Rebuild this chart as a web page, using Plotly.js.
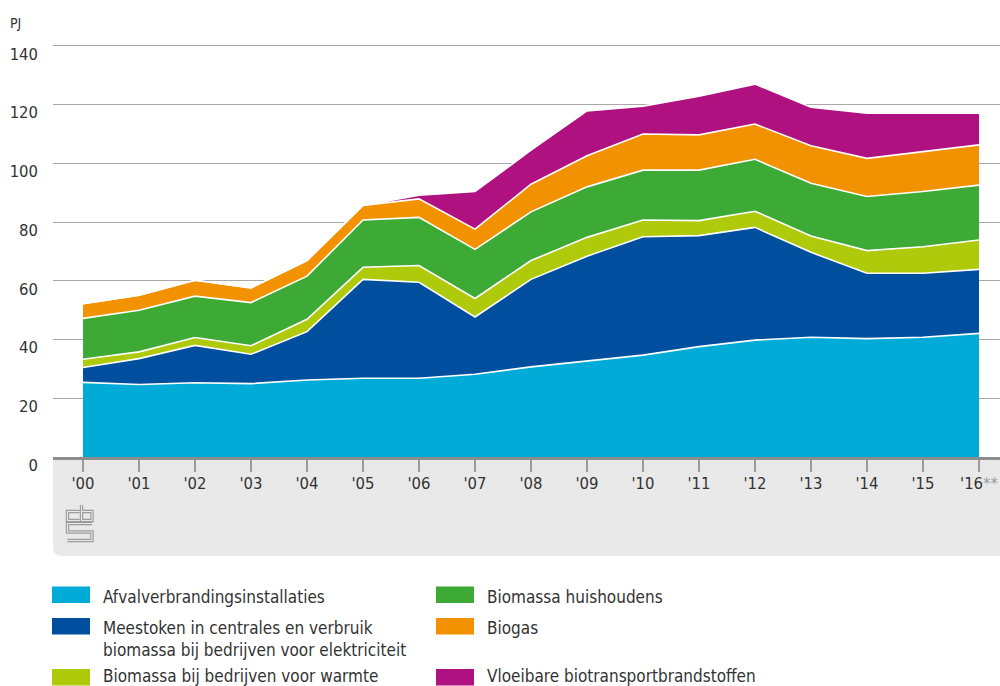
<!DOCTYPE html>
<html>
<head>
<meta charset="utf-8">
<script src="https://cdn.plot.ly/plotly-3.0.1.min.js"></script>
<style>
  html, body { margin: 0; padding: 0; background: #fff; }
  #chart { width: 1000px; height: 686px; }
</style>
</head>
<body>
<div id="chart"></div>
<script>
// ---- Data (PJ) ----
const years = [2000, 2001, 2002, 2003, 2004, 2005, 2006, 2007, 2008, 2009, 2010, 2011, 2012, 2013, 2014, 2015, 2016];
const tickLabels = ["'00", "'01", "'02", "'03", "'04", "'05", "'06", "'07", "'08", "'09", "'10", "'11", "'12", "'13", "'14", "'15", "'16<span style='color:#999'>**</span>"];
const yTicks = [0, 20, 40, 60, 80, 100, 120, 140];

const afval     = [25.4, 24.7, 25.3, 25.0, 26.2, 26.8, 26.8, 28.2, 30.7, 32.8, 34.7, 37.6, 39.8, 40.8, 40.3, 40.8, 42.1];
const meestoken = [5.1, 8.8, 12.7, 10.0, 16.5, 33.7, 32.7, 19.5, 29.8, 35.6, 40.3, 37.8, 38.4, 28.9, 22.3, 21.8, 21.8];
const warmte    = [2.8, 2.3, 2.7, 2.9, 4.2, 4.1, 5.7, 6.3, 6.4, 6.4, 5.7, 5.1, 5.5, 5.6, 7.7, 9.0, 10.0];
const huish     = [13.9, 14.2, 14.1, 14.7, 14.7, 16.1, 16.4, 16.7, 16.6, 17.2, 17.0, 17.2, 17.7, 17.9, 18.4, 18.8, 18.7];
const biogas    = [5.0, 5.1, 5.4, 5.0, 5.3, 5.0, 6.3, 6.9, 9.4, 10.6, 12.3, 12.0, 12.0, 12.8, 13.0, 13.6, 13.7];
const vloeib    = [0, 0, 0, 0, 0, 0, 1.3, 12.8, 11.6, 15.3, 9.5, 13.2, 13.6, 13.1, 15.4, 13.1, 10.8];

const seriesNames = [
  "Afvalverbrandingsinstallaties",
  "Meestoken in centrales en verbruik<br>biomassa bij bedrijven voor elektriciteit",
  "Biomassa bij bedrijven voor warmte",
  "Biomassa huishoudens",
  "Biogas",
  "Vloeibare biotransportbrandstoffen"
];
const seriesValues = [afval, meestoken, warmte, huish, biogas, vloeib];
const seriesColors = ["#00acd7", "#004f9e", "#afca0b", "#3daa35", "#f39200", "#af1280"];

// ---- Layout geometry ----
const W = 1000, H = 686;
const M = { l: 53, r: 0, t: 43, b: 229 };
const plotW = W - M.l - M.r, plotH = H - M.t - M.b;
const px = x => (x - M.l) / plotW;          // pixel -> paper x
const py = y => (H - M.b - y) / plotH;      // pixel -> paper y

const traces = seriesValues.map((vals, i) => ({
  type: 'scatter',
  mode: 'lines',
  x: years,
  y: vals,
  name: seriesNames[i],
  stackgroup: 'one',
  fillcolor: seriesColors[i],
  line: { color: '#ffffff', width: 1.6, shape: 'linear' },
  hoverinfo: 'skip',
  showlegend: false
}));

const shapes = [];
const annotations = [];

// grey band below the axis with rounded bottom-left corner
{
  const x0 = px(53), x1 = px(1000), yTop = py(457), yBot = py(556);
  const rx = 9 / plotW, ry = 9 / plotH;
  shapes.push({
    type: 'path', xref: 'paper', yref: 'paper', layer: 'below',
    path: `M ${x0} ${yTop} L ${x1} ${yTop} L ${x1} ${yBot} L ${x0 + rx} ${yBot} Q ${x0} ${yBot} ${x0} ${yBot + ry} Z`,
    fillcolor: '#e9e9e9', line: { width: 0 }
  });
}

// CBS logo outline (decoration), pixel polylines converted to paper coords
{
  const ox = 67.5, oy = 505;
  const polys = [
    [[12, 6.5], [0, 6.5], [0, 15.5], [12, 15.5]],
    [[14, 0], [14, 15.5], [24.5, 15.5], [24.5, 6.5], [14, 6.5]],
    [[24.5, 18.5], [0, 18.5], [0, 27], [24.5, 27], [24.5, 35.5], [0, 35.5]]
  ];
  const pathStr = polys.map(p => p.map((pt, k) =>
    (k ? 'L ' : 'M ') + px(ox + pt[0]) + ' ' + py(oy + pt[1])).join(' ')).join(' ');
  shapes.push({ type: 'path', xref: 'paper', yref: 'paper', path: pathStr,
    line: { color: '#9b9b9b', width: 3.4 } });
  shapes.push({ type: 'path', xref: 'paper', yref: 'paper', path: pathStr,
    line: { color: '#e9e9e9', width: 1.1 } });
}

// custom legend
const legendItems = [
  { i: 0, col: 0, swY: 586.5, txtY: 597 },
  { i: 1, col: 0, swY: 618, txtY: 638.5 },
  { i: 2, col: 0, swY: 669, txtY: 676 },
  { i: 3, col: 1, swY: 586.5, txtY: 597 },
  { i: 4, col: 1, swY: 618, txtY: 627.5 },
  { i: 5, col: 1, swY: 669, txtY: 676 }
];
const colSwX = [52, 436], colTxtX = [101, 485];
legendItems.forEach(it => {
  shapes.push({
    type: 'rect', xref: 'paper', yref: 'paper',
    x0: px(colSwX[it.col]), x1: px(colSwX[it.col] + 38),
    y0: py(it.swY), y1: py(it.swY + 16.5),
    fillcolor: seriesColors[it.i], line: { width: 0 }
  });
  annotations.push({
    xref: 'paper', yref: 'paper', x: px(colTxtX[it.col]), y: py(it.txtY),
    xanchor: 'left', yanchor: 'middle', align: 'left', showarrow: false,
    text: seriesNames[it.i],
    font: { family: 'DejaVu Sans Condensed, DejaVu Sans, sans-serif', size: 17, color: '#333333' }
  });
});

// unit label
annotations.push({
  xref: 'paper', yref: 'paper', x: px(8), y: py(23),
  xanchor: 'left', yanchor: 'middle', showarrow: false, text: 'PJ',
  font: { family: 'DejaVu Sans Condensed, DejaVu Sans, sans-serif', size: 14, color: '#333333' }
});

const layout = {
  width: W, height: H,
  margin: M,
  paper_bgcolor: '#ffffff',
  plot_bgcolor: 'rgba(0,0,0,0)',
  showlegend: false,
  hovermode: false,
  xaxis: {
    range: [1999.464, 2016.375],
    tickmode: 'array', tickvals: years, ticktext: tickLabels,
    ticks: 'outside', ticklen: 12, tickwidth: 2, tickcolor: '#9a9a9a',
    showgrid: false, zeroline: false,
    showline: true, linecolor: '#8c8c8c', linewidth: 3,
    ticklabelstandoff: -3,
    tickfont: { family: 'DejaVu Sans Condensed, DejaVu Sans, sans-serif', size: 16.5, color: '#333333' },
    fixedrange: true
  },
  yaxis: {
    range: [0, 141],
    tickmode: 'array', tickvals: yTicks,
    ticks: '', showline: false, zeroline: false,
    showgrid: true, gridcolor: '#a8a8a8', gridwidth: 1,
    ticklabelstandoff: 14, ticklabelshift: 8,
    tickfont: { family: 'DejaVu Sans Condensed, DejaVu Sans, sans-serif', size: 16.5, color: '#333333' },
    fixedrange: true
  },
  shapes: shapes,
  annotations: annotations
};

Plotly.newPlot('chart', traces, layout, { staticPlot: true, displayModeBar: false });
</script>
</body>
</html>
